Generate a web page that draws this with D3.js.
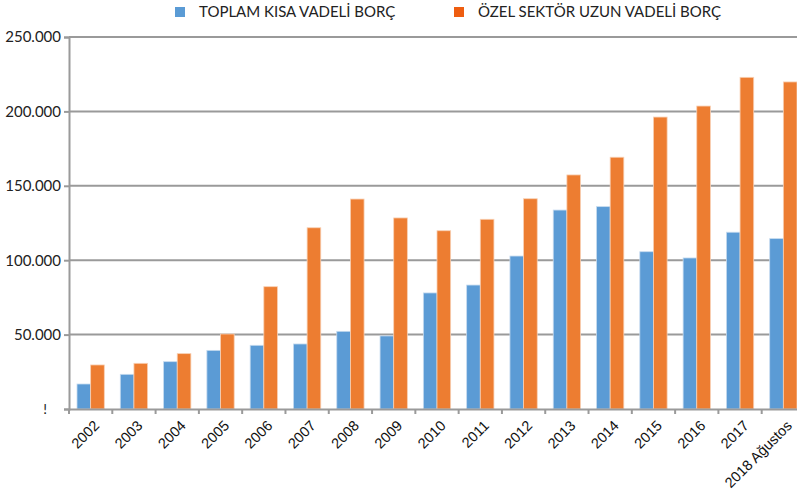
<!DOCTYPE html>
<html>
<head>
<meta charset="utf-8"/>
<script src="https://cdn.jsdelivr.net/npm/d3@7"></script>
<style>
  body { margin: 0; background: #fff; }
  svg { display: block; }
</style>
</head>
<body>
<script>
var years = ["2002","2003","2004","2005","2006","2007","2008","2009","2010","2011","2012","2013","2014","2015","2016","2017","2018 Ağustos"];
var kisaVadeli = [16800, 23300, 31800, 39400, 42800, 43700, 52200, 49100, 78000, 83300, 102800, 133700, 136000, 105700, 101500, 118800, 114500];
var uzunVadeli = [29600, 30700, 37200, 50400, 82200, 121800, 141100, 128400, 119800, 127500, 141300, 157300, 169200, 196200, 203600, 222900, 219800];
var seriesNames = ["TOPLAM KISA VADELİ BORÇ", "ÖZEL SEKTÖR UZUN VADELİ BORÇ"];
var yTicks = [0, 50000, 100000, 150000, 200000, 250000];
var yTickLabels = ["!", "50.000", "100.000", "150.000", "200.000", "250.000"];

var w = 797, h = 496;
var svg = d3.select("body").append("svg").attr("width", w).attr("height", h);

var x = d3.scaleBand().domain(years).range([69, 805]);
var y = d3.scaleLinear().domain([0, 250000]).range([409, 37]);
var inner = d3.scaleBand().domain([0, 1]).range([8, x.bandwidth() - 8]);

// gridlines
svg.append("g").selectAll("line")
  .data(yTicks.slice(1))
  .join("line")
  .attr("x1", 69).attr("x2", w)
  .attr("y1", function(d) { return y(d); }).attr("y2", function(d) { return y(d); })
  .attr("stroke", "#9a9a9a").attr("stroke-width", 2);

// bars
var rows = years.map(function(yr, i) { return { year: yr, vals: [kisaVadeli[i], uzunVadeli[i]] }; });
var colors = ["#5b9bd5", "#ed7d31"];
var groups = svg.append("g").selectAll("g")
  .data(rows).join("g")
  .attr("transform", function(d) { return "translate(" + x(d.year) + ",0)"; });
groups.selectAll("rect")
  .data(function(d) { return d.vals; })
  .join("rect")
  .attr("x", function(d, i) { return inner(i); })
  .attr("width", inner.bandwidth())
  .attr("y", function(d) { return y(d); })
  .attr("height", function(d) { return y(0) - y(d); })
  .attr("fill", function(d, i) { return colors[i]; })
  .attr("stroke", function(d, i) { return i ? "#f8d0b4" : "#c6dbef"; })
  .attr("stroke-width", 0.8);

// y axis
var yAxis = svg.append("g")
  .attr("transform", "translate(69,0)")
  .call(d3.axisLeft(y).tickValues(yTicks).tickSize(5).tickPadding(3)
    .tickFormat(function(d, i) { return yTickLabels[i]; }));
yAxis.select(".domain").attr("stroke", "#9a9a9a").attr("stroke-width", 2);
yAxis.selectAll(".tick line").attr("stroke", "#9a9a9a").attr("stroke-width", 2);
yAxis.selectAll(".tick text")
  .attr("font-family", "Lato, 'Open Sans', sans-serif")
  .attr("font-size", 15).attr("fill", "#222");
yAxis.selectAll(".tick").filter(function(d) { return d === 0; }).select("text")
  .attr("dx", -14).attr("font-size", 14);

// x axis
var xAxis = svg.append("g")
  .attr("transform", "translate(0,409)")
  .call(d3.axisBottom(x).tickSize(0).tickSizeOuter(0));
xAxis.select(".domain").attr("stroke", "#9a9a9a").attr("stroke-width", 2);
xAxis.selectAll(".tick text")
  .attr("font-family", "'Liberation Sans', Arial, sans-serif")
  .attr("font-size", 14.5).attr("fill", "#111")
  .attr("text-anchor", "end")
  .attr("x", 0).attr("y", 0).attr("dy", "0.35em")
  .attr("transform", "translate(6,14) rotate(-45)");
// category boundary ticks
xAxis.append("g").selectAll("line")
  .data(years.concat(["end"]))
  .join("line")
  .attr("x1", function(d, i) { return x.range()[0] + i * x.step(); })
  .attr("x2", function(d, i) { return x.range()[0] + i * x.step(); })
  .attr("y1", 0).attr("y2", 5)
  .attr("stroke", "#9a9a9a").attr("stroke-width", 2);

// legend
var legend = svg.append("g");
var legendX = [175, 454];
legend.selectAll("rect")
  .data(seriesNames).join("rect")
  .attr("x", function(d, i) { return legendX[i]; })
  .attr("y", 7).attr("width", 10).attr("height", 10)
  .attr("fill", function(d, i) { return i ? "#ee5d10" : "#5a9bd5"; });
legend.selectAll("text")
  .data(seriesNames).join("text")
  .attr("x", function(d, i) { return legendX[i] + 24; })
  .attr("y", 17)
  .attr("font-family", "Lato, 'Open Sans', sans-serif")
  .attr("font-size", 15).attr("fill", "#222")
  .text(function(d) { return d; });
</script>
</body>
</html>
